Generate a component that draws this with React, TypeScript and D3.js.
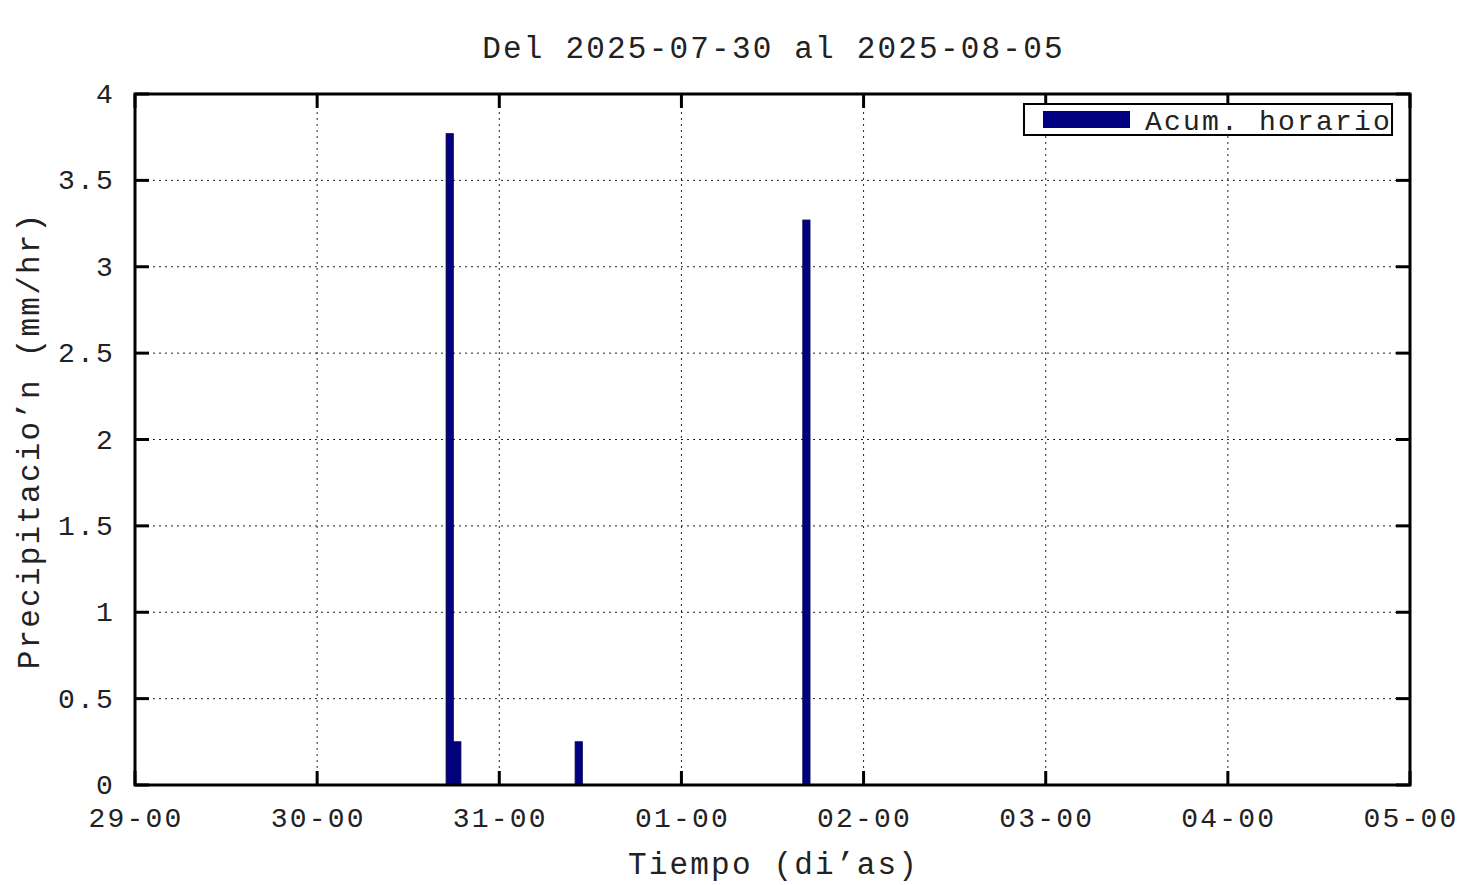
import React, { useRef, useEffect } from 'react';
import * as d3 from 'd3';

// hourly rain totals (hour start, mm)
const barTimes = ['2025-07-30T17:00', '2025-07-30T18:00', '2025-07-31T10:00', '2025-08-01T16:00'];
const barValues = [3.77, 0.25, 0.25, 3.27];
const yTicks = [0, 0.5, 1, 1.5, 2, 2.5, 3, 3.5, 4];
const yTickLabels = ['0', '0.5', '1', '1.5', '2', '2.5', '3', '3.5', '4'];
const xStart = '2025-07-29T00:00';
const xEnd = '2025-08-05T00:00';

const FONT = '"Liberation Mono", "DejaVu Sans Mono", monospace';

const App = () => {
  const ref = useRef<SVGSVGElement>(null);

  useEffect(() => {
    const svg = d3.select(ref.current);
    svg.selectAll('*').remove();
    const W = 1476, H = 885;
    const margin = { top: 94, right: 66, bottom: 100, left: 135 };
    const width = W - margin.left - margin.right;
    const height = H - margin.top - margin.bottom;
    const parse = d3.timeParse('%Y-%m-%dT%H:%M');

    const x = d3.scaleTime()
      .domain([parse(xStart)!, parse(xEnd)!])
      .range([0, width]);
    const y = d3.scaleLinear().domain([0, 4]).range([height, 0]);

    const g = svg.append('g').attr('transform', `translate(${margin.left},${margin.top})`);
    const xTicks = x.ticks(d3.timeDay.every(1)!);
    const fmt = d3.timeFormat('%d-%H');

    // grid
    g.append('g').selectAll('line.gx')
      .data(xTicks.slice(1, -1))
      .enter().append('line')
      .attr('x1', d => x(d)).attr('x2', d => x(d))
      .attr('y1', 0).attr('y2', height)
      .attr('stroke', '#222').attr('stroke-width', 1).attr('stroke-dasharray', '2,4');
    g.append('g').selectAll('line.gy')
      .data(yTicks.slice(1, -1))
      .enter().append('line')
      .attr('x1', 0).attr('x2', width)
      .attr('y1', d => y(d)).attr('y2', d => y(d))
      .attr('stroke', '#222').attr('stroke-width', 1).attr('stroke-dasharray', '2,4');

    // bars
    const hour = 3600 * 1000;
    g.selectAll('rect.bar')
      .data(barTimes.map((t, i) => ({ t: parse(t)!, v: barValues[i] })))
      .enter().append('rect')
      .attr('x', d => x(d.t))
      .attr('width', d => x(new Date(d.t.getTime() + hour)) - x(d.t) - 0.5)
      .attr('y', d => y(d.v))
      .attr('height', d => height - y(d.v))
      .attr('fill', '#000080')
      .attr('stroke', '#00004a')
      .attr('stroke-width', 1);

    // ticks (inward, all four sides)
    const tk = 14;
    const tg = g.append('g').attr('stroke', '#000').attr('stroke-width', 3);
    xTicks.forEach(d => {
      tg.append('line').attr('x1', x(d)).attr('x2', x(d)).attr('y1', height).attr('y2', height - tk);
      tg.append('line').attr('x1', x(d)).attr('x2', x(d)).attr('y1', 0).attr('y2', tk);
    });
    yTicks.forEach(d => {
      tg.append('line').attr('x1', 0).attr('x2', tk).attr('y1', y(d)).attr('y2', y(d));
      tg.append('line').attr('x1', width).attr('x2', width - tk).attr('y1', y(d)).attr('y2', y(d));
    });

    // frame
    g.append('rect')
      .attr('x', 0).attr('y', 0).attr('width', width).attr('height', height)
      .attr('fill', 'none').attr('stroke', '#000').attr('stroke-width', 3);

    // tick labels
    g.append('g').selectAll('text')
      .data(xTicks)
      .enter().append('text')
      .attr('x', d => x(d) + 1).attr('y', height + 42)
      .attr('text-anchor', 'middle')
      .attr('font-family', FONT).attr('font-size', 28).attr('letter-spacing', 2.2).attr('fill', '#222')
      .text(d => fmt(d));
    g.append('g').selectAll('text')
      .data(yTicks)
      .enter().append('text')
      .attr('x', -20).attr('y', d => y(d) + 9)
      .attr('text-anchor', 'end')
      .attr('font-family', FONT).attr('font-size', 28).attr('letter-spacing', 2.2).attr('fill', '#222')
      .text((d, i) => yTickLabels[i]);

    // title and axis labels
    svg.append('text')
      .attr('x', margin.left + width / 2 + 1).attr('y', 58)
      .attr('text-anchor', 'middle')
      .attr('font-family', FONT).attr('font-size', 31).attr('letter-spacing', 2.2).attr('fill', '#222')
      .text('Del 2025-07-30 al 2025-08-05');
    svg.append('text')
      .attr('x', margin.left + width / 2 + 1).attr('y', 874)
      .attr('text-anchor', 'middle')
      .attr('font-family', FONT).attr('font-size', 31).attr('letter-spacing', 2.2).attr('fill', '#222')
      .text('Tiempo (di’as)');
    svg.append('text')
      .attr('transform', `translate(39,${margin.top + height / 2 + 1}) rotate(-90)`)
      .attr('text-anchor', 'middle')
      .attr('font-family', FONT).attr('font-size', 31).attr('letter-spacing', 2.2).attr('fill', '#222')
      .text('Precipitacio’n (mm/hr)');

    // legend
    const lg = svg.append('g').attr('transform', 'translate(1024,104)');
    lg.append('rect').attr('x', 0).attr('y', 0).attr('width', 368).attr('height', 31)
      .attr('fill', '#fff').attr('stroke', '#000').attr('stroke-width', 2);
    lg.append('rect').attr('x', 19).attr('y', 7).attr('width', 87).attr('height', 17)
      .attr('fill', '#000080');
    lg.append('text').attr('x', 368).attr('y', 26)
      .attr('text-anchor', 'end')
      .attr('font-family', FONT).attr('font-size', 28).attr('letter-spacing', 2.2).attr('fill', '#222')
      .text('Acum. horario');
  }, []);

  return (
    <svg ref={ref} width={1476} height={885}
      style={{ position: 'absolute', left: 0, top: 0, background: '#fff' }} />
  );
};

export default App;
